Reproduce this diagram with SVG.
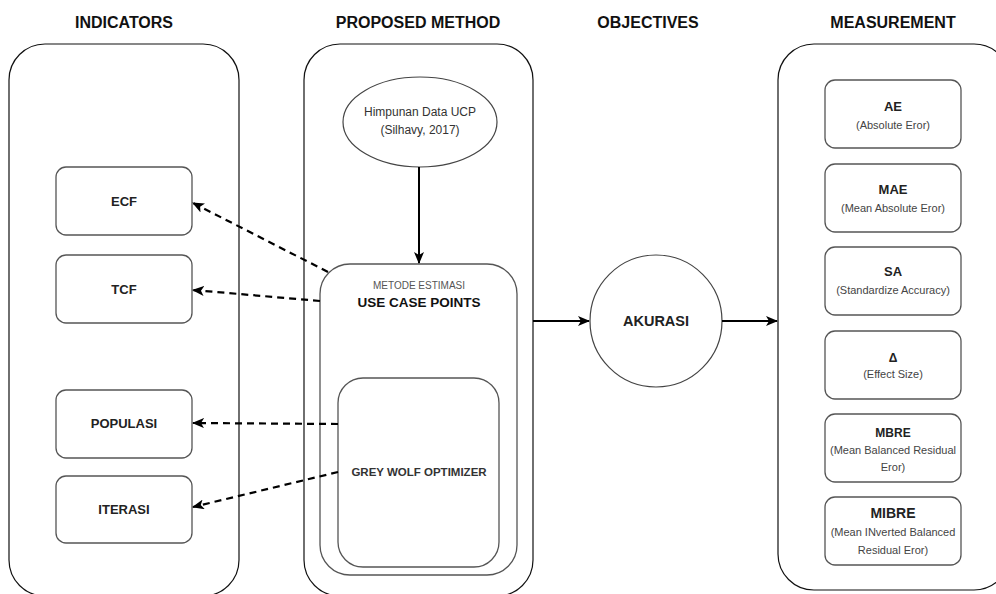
<svg xmlns="http://www.w3.org/2000/svg" width="996" height="594" viewBox="0 0 996 594">
<style>
.bg{fill:#fff}
.panel{fill:#fff;stroke:#111;stroke-width:1.2}
.box{fill:#fff;stroke:#555;stroke-width:1.3}
.hdr{font-family:"Liberation Sans",Arial,sans-serif;font-weight:bold;font-size:16px;fill:#111;text-anchor:middle}
.lbl{font-family:"Liberation Sans",Arial,sans-serif;font-weight:bold;font-size:13px;fill:#222;text-anchor:middle}
.sub{font-family:"Liberation Sans",Arial,sans-serif;font-size:11px;fill:#444;text-anchor:middle}
.reg{font-family:"Liberation Sans",Arial,sans-serif;font-size:12px;fill:#333;text-anchor:middle}
.solid{fill:none;stroke:#000;stroke-width:2}
.dash{fill:none;stroke:#000;stroke-width:2.2;stroke-dasharray:7 5}
</style>
<defs>
<marker id="ah" viewBox="0 0 12 10" refX="11" refY="5" markerWidth="12" markerHeight="10" markerUnits="userSpaceOnUse" orient="auto">
<path d="M0,0 L12,5 L0,10 L3,5 Z" fill="#000"/>
</marker>
</defs>
<rect class="bg" x="0" y="0" width="996" height="594"/>

<text class="hdr" x="124" y="28">INDICATORS</text>
<text class="hdr" x="418" y="28">PROPOSED METHOD</text>
<text class="hdr" x="648" y="28">OBJECTIVES</text>
<text class="hdr" x="893" y="28">MEASUREMENT</text>

<g id="panel-indicators"><rect class="panel" x="9" y="44" width="230" height="552" rx="36"/></g>
<g id="panel-method"><rect class="panel" x="304" y="44" width="229" height="552" rx="36"/></g>
<g id="panel-measurement"><rect class="panel" x="778" y="44" width="232" height="546" rx="36"/></g>

<g id="ecf"><rect class="box" x="56" y="167" width="136" height="68" rx="10"/><text class="lbl" x="124" y="206">ECF</text></g>
<g id="tcf"><rect class="box" x="56" y="255" width="136" height="68" rx="10"/><text class="lbl" x="124" y="294">TCF</text></g>
<g id="populasi"><rect class="box" x="56" y="390" width="136" height="68" rx="10"/><text class="lbl" x="124" y="428">POPULASI</text></g>
<g id="iterasi"><rect class="box" x="56" y="476" width="136" height="67" rx="10"/><text class="lbl" x="124" y="514">ITERASI</text></g>

<g id="himpunan"><ellipse cx="420" cy="122" rx="77" ry="45" fill="#fff" stroke="#444" stroke-width="1.2"/>
<text class="reg" x="420" y="116">Himpunan Data UCP</text><text class="reg" x="420" y="134">(Silhavy, 2017)</text></g>

<g id="ucp"><rect class="box" x="320" y="264" width="197" height="311" rx="30"/>
<text x="419" y="289" style="font-family:'Liberation Sans',Arial,sans-serif;font-size:10px;fill:#555;text-anchor:middle">METODE ESTIMASI</text>
<text x="419" y="307" style="font-family:'Liberation Sans',Arial,sans-serif;font-weight:bold;font-size:13.5px;fill:#111;text-anchor:middle">USE CASE POINTS</text></g>

<g id="gwo"><rect class="box" x="338" y="378" width="161" height="189" rx="25"/>
<text x="419" y="476" style="font-family:'Liberation Sans',Arial,sans-serif;font-weight:bold;font-size:11.5px;fill:#333;text-anchor:middle">GREY WOLF OPTIMIZER</text></g>

<g id="akurasi"><circle cx="656" cy="321" r="66" fill="#fff" stroke="#444" stroke-width="1.2"/>
<text x="656" y="326" style="font-family:'Liberation Sans',Arial,sans-serif;font-weight:bold;font-size:14.5px;fill:#222;text-anchor:middle">AKURASI</text></g>

<g id="ae"><rect class="box" x="825" y="80" width="136" height="68" rx="10"/><text class="lbl" x="893" y="111">AE</text><text class="sub" x="893" y="129">(Absolute Eror)</text></g>
<g id="mae"><rect class="box" x="825" y="164" width="136" height="68" rx="10"/><text class="lbl" x="893" y="194">MAE</text><text class="sub" x="893" y="212">(Mean Absolute Eror)</text></g>
<g id="sa"><rect class="box" x="825" y="247" width="136" height="68" rx="10"/><text class="lbl" x="893" y="276">SA</text><text class="sub" x="893" y="294">(Standardize Accuracy)</text></g>
<g id="delta"><rect class="box" x="825" y="331" width="136" height="68" rx="10"/><text class="lbl" x="893" y="362" style="font-size:12px">Δ</text><text class="sub" x="893" y="378">(Effect Size)</text></g>
<g id="mbre"><rect class="box" x="825" y="414" width="136" height="68" rx="10"/><text class="lbl" x="893" y="437" style="font-size:12px">MBRE</text><text class="sub" x="893" y="454">(Mean Balanced Residual</text><text class="sub" x="893" y="471">Eror)</text></g>
<g id="mibre"><rect class="box" x="825" y="497" width="136" height="68" rx="10"/><text class="lbl" x="893" y="518" style="font-size:14px">MIBRE</text><text class="sub" x="893" y="536">(Mean INverted Balanced</text><text class="sub" x="893" y="554">Residual Eror)</text></g>

<g id="connectors">
<path class="solid" d="M419,167 L419,263" marker-end="url(#ah)"/>
<path class="solid" d="M533,321 L589,321" marker-end="url(#ah)"/>
<path class="solid" d="M722,321 L777,321" marker-end="url(#ah)"/>
<path class="dash" d="M328,272 L193,203" marker-end="url(#ah)"/>
<path class="dash" d="M320,301 L193,290" marker-end="url(#ah)"/>
<path class="dash" d="M338,424 L193,423" marker-end="url(#ah)"/>
<path class="dash" d="M338,472 L193,507" marker-end="url(#ah)"/>
</g>
</svg>
